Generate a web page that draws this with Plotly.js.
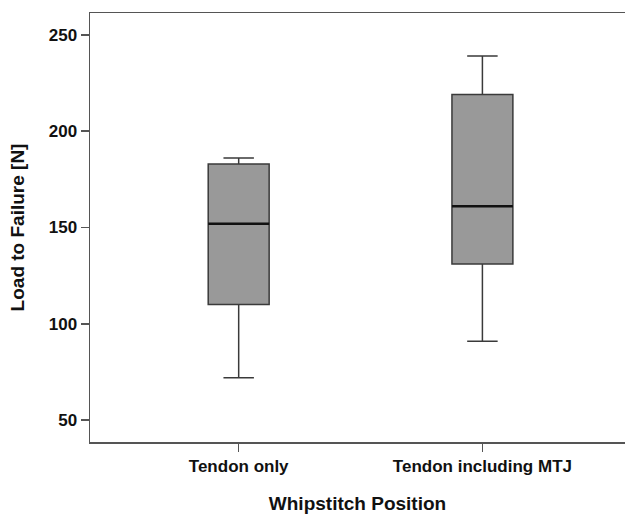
<!DOCTYPE html>
<html>
<head>
<meta charset="utf-8">
<script src="https://cdn.plot.ly/plotly-3.0.1.min.js"></script>
<style>html,body{margin:0;padding:0;background:#fff;}#chart{width:625px;height:514px;}</style>
</head>
<body>
<div id="chart"></div>
<script>
// Data
const categories = ["Tendon only", "Tendon including MTJ"];
const positions = [0, 1];
const lowerWhisker = [72, 91];
const q1Values = [110, 131];
const medianValues = [152, 161];
const q3Values = [183, 219];
const upperWhisker = [186, 239];
const yTicks = [50, 100, 150, 200, 250];

const boxWidth = 0.25;

const boxTrace = {
  type: "box",
  x: positions,
  q1: q1Values,
  median: medianValues,
  q3: q3Values,
  lowerfence: lowerWhisker,
  upperfence: upperWhisker,
  width: boxWidth,
  whiskerwidth: 0.5,
  fillcolor: "#999999",
  line: {color: "#3a3a3a", width: 1.5},
  boxpoints: false,
  hoverinfo: "skip",
  showlegend: false
};

// thicker median line drawn from the same data
const mx = [], my = [];
positions.forEach((p, i) => {
  mx.push(p - boxWidth / 2, p + boxWidth / 2, null);
  my.push(medianValues[i], medianValues[i], null);
});
const medianTrace = {
  type: "scatter", mode: "lines", x: mx, y: my,
  line: {color: "#111111", width: 2.5},
  hoverinfo: "skip", showlegend: false
};

const font = {family: "Liberation Sans, Arial, sans-serif", color: "#111111"};

const layout = {
  width: 625, height: 514,
  margin: {l: 90, r: 0, t: 13, b: 72, pad: 0},
  paper_bgcolor: "#ffffff",
  plot_bgcolor: "#ffffff",
  showlegend: false,
  font: font,
  xaxis: {
    range: [-0.61, 1.585],
    tickvals: positions,
    ticktext: categories.map(c => "<b>" + c + "</b>"),
    ticks: "outside", ticklen: 8, tickwidth: 1.5, tickcolor: "#555555",
    showline: true, linecolor: "#555555", linewidth: 1.5, mirror: true,
    showgrid: false, zeroline: false,
    tickfont: {family: font.family, size: 17, color: "#111111"},
    title: {text: "<b>Whipstitch Position</b>", font: {family: font.family, size: 19, color: "#111111"}, standoff: 22}
  },
  yaxis: {
    range: [38.7, 261.3],
    tickvals: yTicks,
    ticktext: yTicks.map(v => "<b>" + v + "</b>"),
    ticks: "outside", ticklen: 8, tickwidth: 1.5, tickcolor: "#555555",
    showline: true, linecolor: "#555555", linewidth: 1.5,
    showgrid: false, zeroline: false,
    tickfont: {family: font.family, size: 17, color: "#111111"},
    title: {text: "<b>Load to Failure [N]</b>", font: {family: font.family, size: 19, color: "#111111"}, standoff: 19}
  }
};

Plotly.newPlot("chart", [boxTrace, medianTrace], layout, {displayModeBar: false, staticPlot: true});
</script>
</body>
</html>
